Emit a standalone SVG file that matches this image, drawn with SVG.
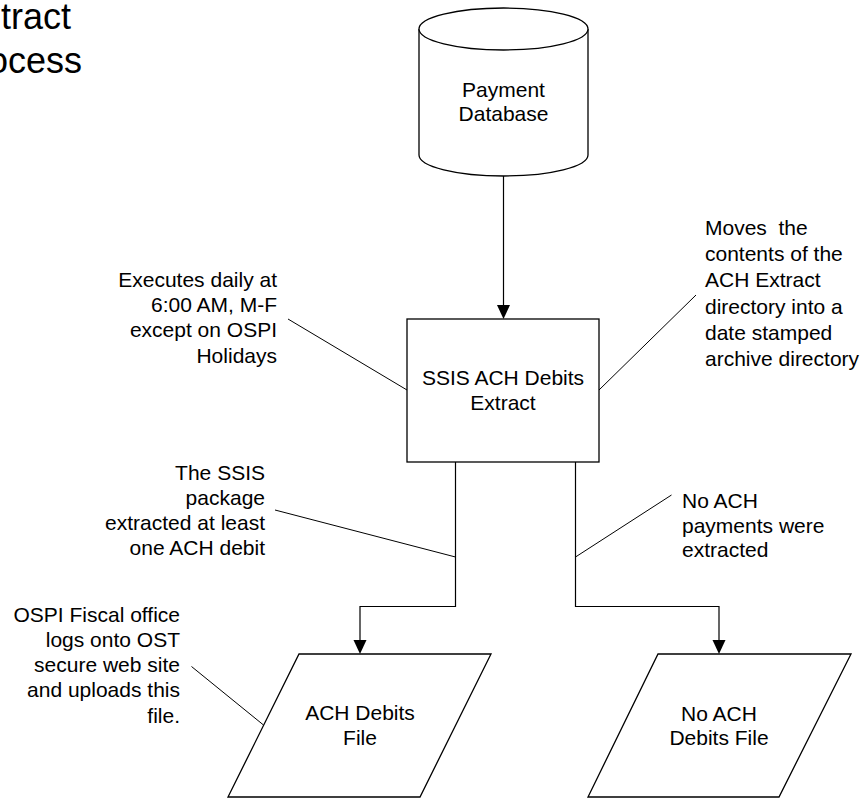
<svg xmlns="http://www.w3.org/2000/svg" width="868" height="800" viewBox="0 0 868 800">
<style>
text{font-family:"Liberation Sans",Arial,sans-serif;font-size:21px;fill:#000}
.title{font-size:36px}
.shape{fill:#fff;stroke:#000;stroke-width:1.3}
.c{text-anchor:middle}
.r{text-anchor:end}
.conn{fill:none;stroke:#000;stroke-width:1.2}
.lead{fill:none;stroke:#000;stroke-width:1}
.head{fill:#000}
</style>
<rect width="868" height="800" fill="#fff"/>
<g id="title">
<text class="title" x="1" y="29">tract</text>
<text class="title" x="-12" y="73">ocess</text>
</g>
<g id="connectors">
<path class="conn" d="M503.5,176 V306"/>
<path class="conn" d="M455.5,462 V606.5 H360 V641"/>
<path class="conn" d="M575.5,462 V606.5 H719 V641"/>
<path class="head" d="M497,305 L510,305 L503.5,319 Z"/>
<path class="head" d="M353.5,640 L366.5,640 L360,654 Z"/>
<path class="head" d="M712.5,640 L725.5,640 L719,654 Z"/>
<path class="lead" d="M288,319 L407,390"/>
<path class="lead" d="M696,295 L599,390"/>
<path class="lead" d="M275,510 L455.5,557"/>
<path class="lead" d="M671.5,495 L575.5,557"/>
<path class="lead" d="M191.5,666.5 L263.5,725"/>
</g>
<g id="payment-db">
<path class="shape" d="M419,29 V155 A84.5,21 0 0 0 588,155 V29 A84.5,21 0 0 0 419,29 Z"/>
<path class="shape" d="M419,29 A84.5,21 0 0 0 588,29" fill="none"/>
<text class="c" x="503.5" y="97">Payment</text>
<text class="c" x="503.5" y="121">Database</text>
</g>
<g id="ssis-extract">
<rect class="shape" x="407" y="319" width="192" height="143"/>
<text class="c" x="503" y="385">SSIS ACH Debits</text>
<text class="c" x="503" y="410">Extract</text>
</g>
<g id="ach-file">
<path class="shape" d="M299,654 H491 L420,797 H228 Z"/>
<text class="c" x="360" y="720">ACH Debits</text>
<text class="c" x="360" y="745">File</text>
</g>
<g id="no-ach-file">
<path class="shape" d="M658,654 H851 L779,797 H588 Z"/>
<text class="c" x="719" y="721">No ACH</text>
<text class="c" x="719" y="745">Debits File</text>
</g>
<g id="note-schedule">
<text class="r" x="277" y="287">Executes daily at</text>
<text class="r" x="277" y="312">6:00 AM, M-F</text>
<text class="r" x="277" y="337">except on OSPI</text>
<text class="r" x="277" y="363">Holidays</text>
</g>
<g id="note-archive">
<text x="705" y="235" xml:space="preserve">Moves  the</text>
<text x="705" y="261">contents of the</text>
<text x="705" y="287">ACH Extract</text>
<text x="705" y="314">directory into a</text>
<text x="705" y="340">date stamped</text>
<text x="705" y="366">archive directory</text>
</g>
<g id="note-extracted">
<text class="r" x="265" y="480">The SSIS</text>
<text class="r" x="265" y="505">package</text>
<text class="r" x="265" y="530">extracted at least</text>
<text class="r" x="265" y="555">one ACH debit</text>
</g>
<g id="note-none">
<text x="682" y="508">No ACH</text>
<text x="682" y="533">payments were</text>
<text x="682" y="557">extracted</text>
</g>
<g id="note-upload">
<text class="r" x="180" y="622">OSPI Fiscal office</text>
<text class="r" x="180" y="647">logs onto OST</text>
<text class="r" x="180" y="672">secure web site</text>
<text class="r" x="180" y="697">and uploads this</text>
<text class="r" x="180" y="723">file.</text>
</g>
</svg>
